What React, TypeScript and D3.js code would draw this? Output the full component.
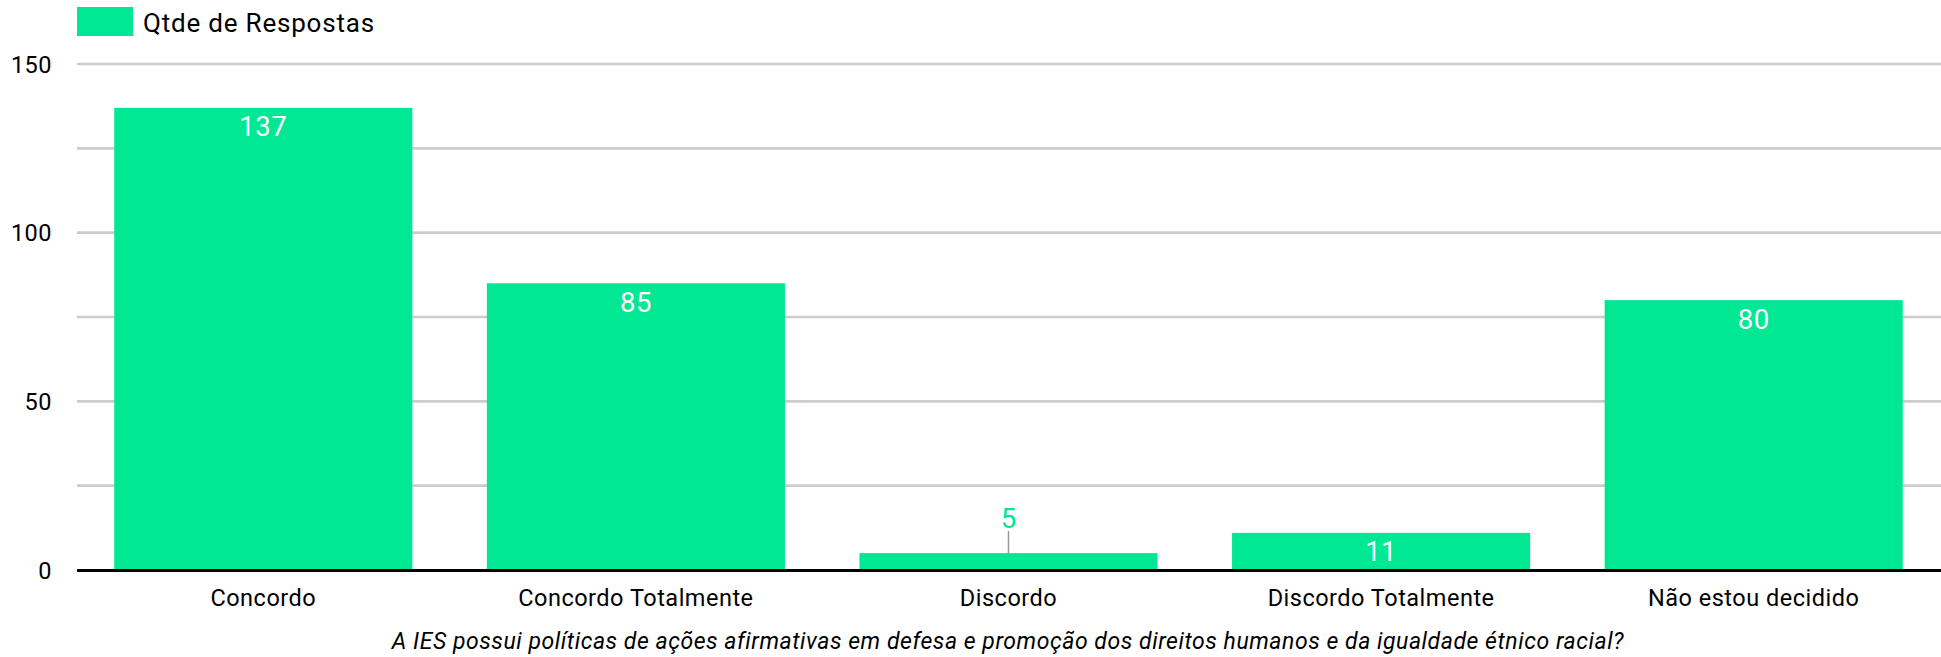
import React, { useEffect } from "react";
import * as d3 from "d3";

const categories = ["Concordo", "Concordo Totalmente", "Discordo", "Discordo Totalmente", "Não estou decidido"];
const values = [137, 85, 5, 11, 80];
const yTicks = [0, 50, 100, 150];
const gridTicks = [0, 25, 50, 75, 100, 125, 150];
const seriesName = "Qtde de Respostas";
const axisTitle = "A IES possui políticas de ações afirmativas em defesa e promoção dos direitos humanos e da igualdade étnico racial?";

const W = 1941;
const H = 657;
const GREEN = "#00e893";
const FONT = "Roboto, 'Noto Sans', sans-serif";

export default function App() {
  useEffect(() => {
    document.body.style.margin = "0";
  }, []);

  const x = d3.scaleBand<string>().domain(categories).range([77, 1940]).paddingInner(0.2).paddingOuter(0.1);
  const y = d3.scaleLinear().domain([0, 150]).range([570, 64]);

  return (
    <svg width={W} height={H} style={{ position: "absolute", left: 0, top: 0, fontFamily: FONT }}>
      <rect x={0} y={0} width={W} height={H} fill="#ffffff" />
      {/* legend */}
      <rect x={77} y={7} width={56} height={29} fill={GREEN} />
      <text x={143} y={31.5} fontSize={26} letterSpacing={0.8} fill="#000">{seriesName}</text>
      {/* grid */}
      {gridTicks.filter((t) => t !== 0).map((t) => (
        <line key={t} x1={77} x2={1941} y1={y(t)} y2={y(t)} stroke="#cccccc" strokeWidth={2.6} />
      ))}
      {yTicks.map((t) => (
        <text key={t} x={52} y={y(t) + 8.5} fontSize={23.5} letterSpacing={0.5} textAnchor="end" fill="#000">{t}</text>
      ))}
      {/* bars */}
      {categories.map((c, i) => {
        const v = values[i];
        const bx = x(c)!;
        const bw = x.bandwidth();
        const top = y(v);
        const h = y(0) - top;
        const cx = bx + bw / 2;
        const inside = h > 30;
        return (
          <g key={c}>
            <rect x={bx} y={top} width={bw} height={h} fill={GREEN} />
            {inside ? (
              <text x={cx} y={top + 28.5} fontSize={27.5} letterSpacing={0.5} textAnchor="middle" fill="#ffffff">{v}</text>
            ) : (
              <g>
                <line x1={cx} x2={cx} y1={top - 22} y2={top} stroke="#999999" strokeWidth={1.5} />
                <text x={cx} y={top - 25} fontSize={27.5} textAnchor="middle" fill={GREEN}>{v}</text>
              </g>
            )}
            <text x={cx} y={606} fontSize={23.5} letterSpacing={0.5} textAnchor="middle" fill="#000">{c}</text>
          </g>
        );
      })}
      {/* baseline */}
      <line x1={77} x2={1941} y1={y(0) + 0.5} y2={y(0) + 0.5} stroke="#000" strokeWidth={3} />
      <text x={1008} y={649} fontSize={23} letterSpacing={0.55} fontStyle="italic" textAnchor="middle" fill="#000">{axisTitle}</text>
    </svg>
  );
}
